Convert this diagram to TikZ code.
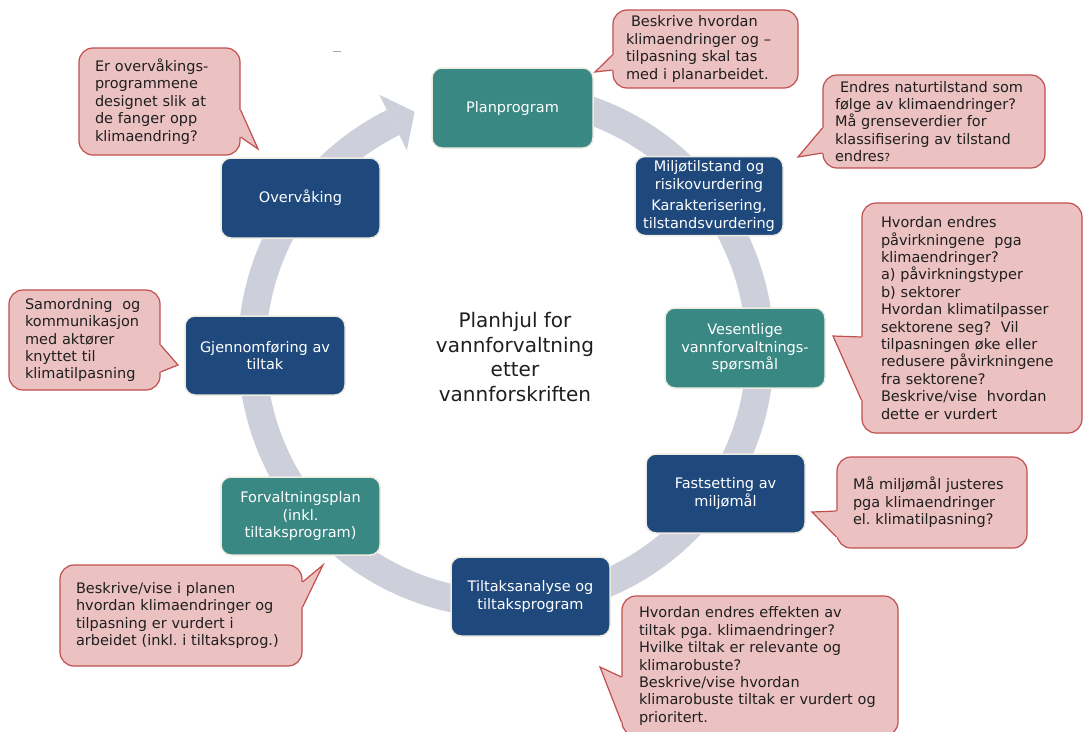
\documentclass[tikz,border=0pt]{standalone}
\usepackage{fontspec}
\setmainfont{DejaVu Sans}
\usetikzlibrary{calc}
\definecolor{navybox}{HTML}{1F497D}
\definecolor{tealbox}{HTML}{398884}
\definecolor{ringgray}{HTML}{CDD0DA}
\definecolor{calloutpink}{HTML}{ECC1C1}
\definecolor{calloutred}{HTML}{C0504D}
\definecolor{boxrim}{HTML}{EEECE1}
\frenchspacing

\begin{document}
\begin{tikzpicture}[x=1pt,y=-1pt,font=\fontsize{14.5}{17.4}\selectfont,line join=miter,
  stage/.style={draw=boxrim,line width=1.5pt,rounded corners=10pt,text=white,align=center,inner sep=0pt},
  navystage/.style={stage,fill=navybox},
  tealstage/.style={stage,fill=tealbox},
  bubble/.style={fill=calloutpink,draw=calloutred,line width=1.2pt,rounded corners=14pt,inner sep=0pt,align=left,text=black!88},
  pointer/.style={draw=calloutred,line width=1.2pt}]
\fill[white] (0,0) rectangle (1083,731);
\useasboundingbox (0,0) rectangle (1083,731);
\coordinate (ctr) at (506,350);
\draw[ringgray,line width=28pt] (ctr) ++(-100:254) arc[start angle=-100,end angle=243.6,radius=254];
\fill[ringgray] ($(ctr)+(243.6:223)$) -- (414.6,111.8) -- ($(ctr)+(243.6:285)$) -- cycle;
\draw[gray!70,line width=0.8pt] (333,51) -- (341,51);

\node[tealstage,minimum width=161pt,minimum height=80pt] (plan) at (512.5,108) {Planprogram};
\node[navystage,minimum width=148pt,minimum height=79pt] (milj) at (709,196) {Miljøtilstand og\\risikovurdering\\[4pt]Karakterisering,\\tilstandsvurdering};
\node[tealstage,minimum width=160pt,minimum height=80pt] (vesent) at (745,348) {Vesentlige\\vannforvaltnings-\\spørsmål};
\node[navystage,minimum width=159pt,minimum height=79pt] (fast) at (725.5,493.5) {Fastsetting av\\miljømål};
\node[navystage,minimum width=159pt,minimum height=79pt] (tiltak) at (530.5,596.5) {Tiltaksanalyse og\\tiltaksprogram};
\node[tealstage,minimum width=159pt,minimum height=78pt] (forv) at (300.5,516) {Forvaltningsplan\\(inkl.\\tiltaksprogram)};
\node[navystage,minimum width=160pt,minimum height=79pt] (gjenn) at (265,355.5) {Gjennomføring av\\tiltak};
\node[navystage,minimum width=159pt,minimum height=80pt] (overv) at (300.5,198) {Overvåking};

\node[font=\fontsize{20}{24.5}\selectfont,align=center,text=black!88] (title) at (515,357) {Planhjul for\\vannforvaltning\\etter\\vannforskriften};

\node[bubble,minimum width=161pt,minimum height=107pt,text width=129pt] (c1) at (159.5,101.5) {Er overvåkings-\\programmene\\designet slik at\\de fanger opp\\klimaendring?};
\node[bubble,minimum width=185pt,minimum height=78pt,text width=159pt] (c2) at (705.5,49) {\hspace*{5pt}Beskrive hvordan\\klimaendringer og –\\tilpasning skal tas\\med i planarbeidet.};
\node[bubble,minimum width=222pt,minimum height=93pt,text width=198pt] (c3) at (934,121.5) {\hspace*{5pt}Endres naturtilstand som\\følge av klimaendringer?\\Må grenseverdier for\\klassifisering av tilstand\\endres{\fontsize{11}{12}\selectfont ?}};
\node[bubble,minimum width=220pt,minimum height=230pt,text width=182pt] (c4) at (972,318) {Hvordan endres\\påvirkningene~ pga\\klimaendringer?\\a) påvirkningstyper\\b) sektorer\\Hvordan klimatilpasser\\sektorene seg?~ Vil\\tilpasningen øke eller\\redusere påvirkningene\\fra sektorene?\\Beskrive/vise~ hvordan\\dette er vurdert};
\node[bubble,minimum width=151pt,minimum height=100pt,text width=119pt] (c5) at (84.5,340) {Samordning~ og\\kommunikasjon\\med aktører\\knyttet til\\klimatilpasning};
\node[bubble,minimum width=190pt,minimum height=91pt,text width=158pt] (c6) at (932,502.5) {Må miljømål justeres\\pga klimaendringer\\el. klimatilpasning?};
\node[bubble,minimum width=276pt,minimum height=140pt,text width=242pt] (c7) at (760,666) {Hvordan endres effekten av\\tiltak pga. klimaendringer?\\Hvilke tiltak er relevante og\\klimarobuste?\\Beskrive/vise hvordan\\klimarobuste tiltak er vurdert og\\prioritert.};
\node[bubble,minimum width=242pt,minimum height=101pt,text width=210pt] (c8) at (181,615.5) {Beskrive/vise i planen\\hvordan klimaendringer og\\tilpasning er vurdert i\\arbeidet (inkl. i tiltaksprog.)};

\coordinate (t1) at (258,149);
\coordinate (t2) at (595,72);
\coordinate (t3) at (798,157);
\coordinate (t4) at (833,336);
\coordinate (t5) at (178,365);
\coordinate (t6) at (812,512);
\coordinate (t7) at (600,667);
\coordinate (t8) at (323,565);

\coordinate (c1a) at (c1.east |- 0,110);
\coordinate (c1b) at (c1.east |- 0,137);
\coordinate (c2a) at (c2.west |- 0,55);
\coordinate (c2b) at (c2.west |- 0,70);
\coordinate (c3a) at (c3.west |- 0,128);
\coordinate (c3b) at (c3.west |- 0,153);
\coordinate (c4a) at (c4.west |- 0,337);
\coordinate (c4b) at (c4.west |- 0,400);
\coordinate (c5a) at (c5.east |- 0,345);
\coordinate (c5b) at (c5.east |- 0,372);
\coordinate (c6a) at (c6.west |- 0,511);
\coordinate (c6b) at (c6.west |- 0,537);
\coordinate (c7a) at (c7.west |- 0,677);
\coordinate (c7b) at (c7.west |- 0,722);
\coordinate (c8a) at (c8.east |- 0,582);
\coordinate (c8b) at (c8.east |- 0,607);

\fill[calloutpink] (c1a) -- (t1) -- (c1b) -- ([xshift=-4pt]c1b) -- ([xshift=-4pt]c1a) -- cycle;
\draw[pointer] (c1a) -- (t1) -- (c1b);
\fill[calloutpink] (c2a) -- (t2) -- (c2b) -- ([xshift=4pt]c2b) -- ([xshift=4pt]c2a) -- cycle;
\draw[pointer] (c2a) -- (t2) -- (c2b);
\fill[calloutpink] (c3a) -- (t3) -- (c3b) -- ([xshift=4pt]c3b) -- ([xshift=4pt]c3a) -- cycle;
\draw[pointer] (c3a) -- (t3) -- (c3b);
\fill[calloutpink] (c4a) -- (t4) -- (c4b) -- ([xshift=4pt]c4b) -- ([xshift=4pt]c4a) -- cycle;
\draw[pointer] (c4a) -- (t4) -- (c4b);
\fill[calloutpink] (c5a) -- (t5) -- (c5b) -- ([xshift=-4pt]c5b) -- ([xshift=-4pt]c5a) -- cycle;
\draw[pointer] (c5a) -- (t5) -- (c5b);
\fill[calloutpink] (c6a) -- (t6) -- (c6b) -- ([xshift=4pt]c6b) -- ([xshift=4pt]c6a) -- cycle;
\draw[pointer] (c6a) -- (t6) -- (c6b);
\fill[calloutpink] (c7a) -- (t7) -- (c7b) -- ([xshift=4pt]c7b) -- ([xshift=4pt]c7a) -- cycle;
\draw[pointer] (c7a) -- (t7) -- (c7b);
\fill[calloutpink] (c8a) -- (t8) -- (c8b) -- ([xshift=-4pt]c8b) -- ([xshift=-4pt]c8a) -- cycle;
\draw[pointer] (c8a) -- (t8) -- (c8b);
\end{tikzpicture}
\end{document}
